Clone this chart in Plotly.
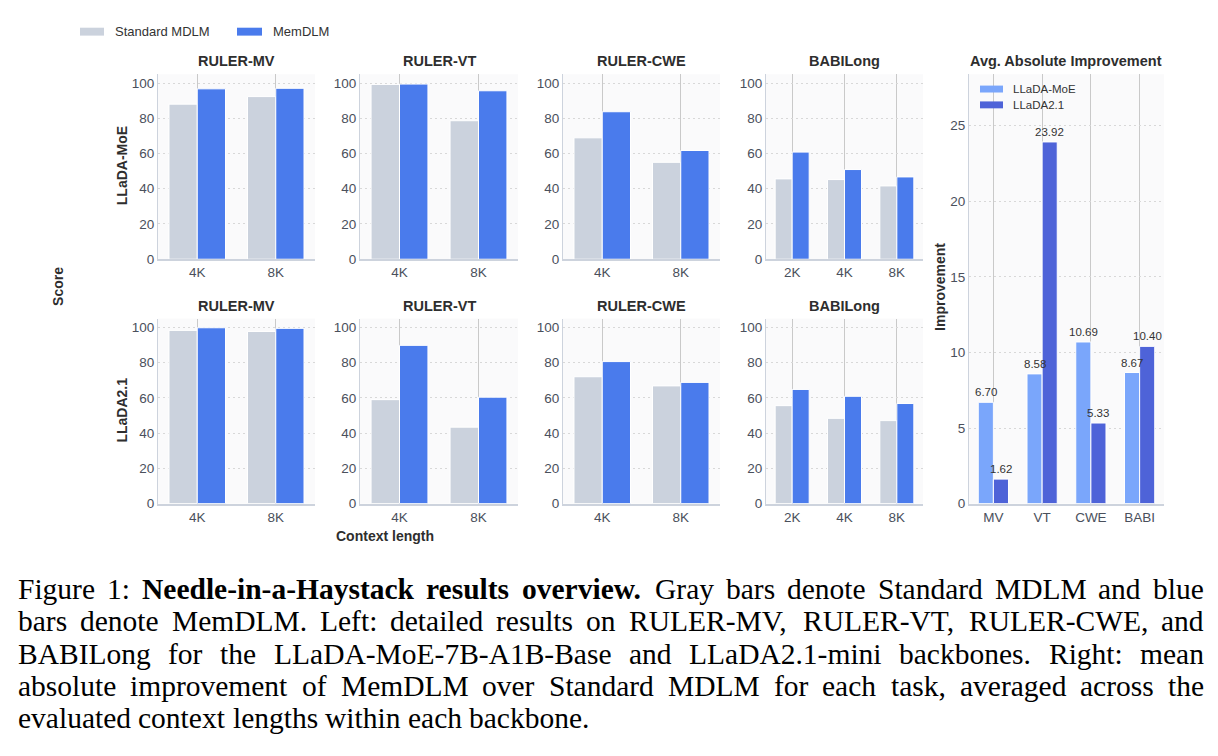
import plotly.graph_objects as go

W, H = 1218, 756

# ---------------- data ----------------
tasks = ["RULER-MV", "RULER-VT", "RULER-CWE", "BABILong"]
ctx_ruler = ["4K", "8K"]
ctx_babi = ["2K", "4K", "8K"]
backbones = ["LLaDA-MoE", "LLaDA2.1"]
methods = ["Standard MDLM", "MemDLM"]

# LLaDA-MoE (top row)
moe_std = {
    "RULER-MV": [88.0, 92.3],
    "RULER-VT": [99.2, 78.6],
    "RULER-CWE": [68.9, 55.0],
    "BABILong": [45.6, 45.2, 41.6],
}
moe_mem = {
    "RULER-MV": [96.7, 97.0],
    "RULER-VT": [99.4, 95.6],
    "RULER-CWE": [83.7, 61.7],
    "BABILong": [60.8, 50.9, 46.7],
}
# LLaDA2.1 (bottom row)
l21_std = {
    "RULER-MV": [98.3, 97.7],
    "RULER-VT": [59.0, 43.4],
    "RULER-CWE": [72.0, 66.8],
    "BABILong": [55.6, 48.4, 47.1],
}
l21_mem = {
    "RULER-MV": [99.8, 99.45],
    "RULER-VT": [89.8, 60.4],
    "RULER-CWE": [80.6, 68.8],
    "BABILong": [64.8, 60.9, 56.8],
}

imp_cats = ["MV", "VT", "CWE", "BABI"]
imp_moe = [6.70, 8.58, 10.69, 8.67]
imp_l21 = [1.62, 23.92, 5.33, 10.40]

y_ticks = [0, 20, 40, 60, 80, 100]
imp_ticks = [0, 5, 10, 15, 20, 25]

# caption: (text, bold) word lists, one list per line
caption_lines = [
    [("Figure", 0), ("1:", 0), ("Needle-in-a-Haystack", 1), ("results", 1), ("overview.", 1),
     ("Gray", 0), ("bars", 0), ("denote", 0), ("Standard", 0), ("MDLM", 0), ("and", 0), ("blue", 0)],
    [("bars", 0), ("denote", 0), ("MemDLM.", 0), ("Left:", 0), ("detailed", 0), ("results", 0),
     ("on", 0), ("RULER-MV,", 0), ("RULER-VT,", 0), ("RULER-CWE,", 0), ("and", 0)],
    [("BABILong", 0), ("for", 0), ("the", 0), ("LLaDA-MoE-7B-A1B-Base", 0), ("and", 0),
     ("LLaDA2.1-mini", 0), ("backbones.", 0), ("Right:", 0), ("mean", 0)],
    [("absolute", 0), ("improvement", 0), ("of", 0), ("MemDLM", 0), ("over", 0), ("Standard", 0),
     ("MDLM", 0), ("for", 0), ("each", 0), ("task,", 0), ("averaged", 0), ("across", 0), ("the", 0)],
    [("evaluated", 0), ("context", 0), ("lengths", 0), ("within", 0), ("each", 0), ("backbone.", 0)],
]

# ---------------- style ----------------
C_STD = "#cbd2dd"
C_MEM = "#4a7bec"
C_MOE = "#7aa6fb"
C_L21 = "#4e63d8"
FONT = "Liberation Sans, Arial, sans-serif"
SERIF = "Liberation Serif, Times New Roman, serif"
TICK_C = "#4a505c"
TITLE_C = "#2e2e2e"
GRID_H = "#d8d8d8"
GRID_V = "#c9c9c9"
AXLINE = "#cdd3dd"
BG = "#fafafb"
TICK_SIZE = 13.5
TITLE_SIZE = 14.5
LABEL_SIZE = 14
CAP_SIZE = 29.5
IMP_BW = 0.31

# Times metrics (per 1000 em) used only to justify caption words
_TR = dict(zip("ABCDEFGHIJKLMNOPQRSTUVWXYZ",
               [722, 667, 667, 722, 611, 556, 722, 722, 333, 389, 722, 611, 889, 722, 722, 556,
                722, 667, 556, 611, 722, 722, 944, 722, 722, 611]))
_TR.update(dict(zip("abcdefghijklmnopqrstuvwxyz",
                    [444, 500, 444, 500, 444, 333, 500, 500, 278, 278, 500, 278, 778, 500, 500, 500,
                     500, 333, 389, 278, 500, 500, 722, 500, 500, 444])))
_TR.update({d: 500 for d in "0123456789"})
_TR.update({":": 278, ",": 250, ".": 250, "-": 333, " ": 250})
_TB = dict(_TR)
_TB.update({"H": 778, "N": 722, "a": 500, "c": 444, "d": 556, "e": 444, "i": 278, "k": 556,
            "l": 278, "n": 556, "o": 500, "r": 444, "s": 389, "t": 333, "u": 556, "v": 500,
            "w": 722, "y": 500, "-": 333, ".": 250})


def word_w(word, bold, size):
    tbl = _TB if bold else _TR
    return sum(tbl.get(ch, 500) for ch in word) * size / 1000.0


def px(x):
    return x / W


def py(y):
    return 1 - y / H


col_x = [(158, 315), (360, 518), (563, 720), (766, 923)]
row_y = [(75, 262), (322, 509)]
imp_x = (969, 1164)

fig = go.Figure()
layout = {}
annotations = []
shapes = []

idx = 0
for r, (stdd, memd) in enumerate([(moe_std, moe_mem), (l21_std, l21_mem)]):
    for c, task in enumerate(tasks):
        idx += 1
        xn = "x" if idx == 1 else f"x{idx}"
        yn = "y" if idx == 1 else f"y{idx}"
        cats = ctx_babi if task == "BABILong" else ctx_ruler
        bw = 0.325 if task == "BABILong" else 0.36
        fig.add_trace(go.Bar(
            x=cats, y=stdd[task], xaxis=xn, yaxis=yn, name=methods[0],
            legendgroup=methods[0],
            marker=dict(color=C_STD, line=dict(color="white", width=1)),
            width=bw, offset=-bw, showlegend=False,
        ))
        fig.add_trace(go.Bar(
            x=cats, y=memd[task], xaxis=xn, yaxis=yn, name=methods[1],
            legendgroup=methods[1],
            marker=dict(color=C_MEM, line=dict(color="white", width=1)),
            width=bw, offset=0, showlegend=False,
        ))
        x0, x1 = col_x[c]
        y0, y1 = row_y[r]
        kx = "xaxis" if idx == 1 else f"xaxis{idx}"
        ky = "yaxis" if idx == 1 else f"yaxis{idx}"
        layout[kx] = dict(
            domain=[px(x0), px(x1)], anchor=yn, type="category",
            range=[-0.5, len(cats) - 0.5],
            showgrid=True, gridcolor=GRID_V, gridwidth=1,
            showline=True, linecolor=AXLINE, linewidth=1.5,
            ticks="", tickfont=dict(size=TICK_SIZE, color=TICK_C, family=FONT),
            fixedrange=True,
        )
        layout[ky] = dict(
            domain=[py(y1), py(y0)], anchor=xn, range=[0, 105],
            tickvals=y_ticks,
            showgrid=True, gridcolor=GRID_H, griddash="2px,3px", gridwidth=1,
            zeroline=False, showline=True, linecolor=AXLINE, linewidth=1,
            ticks="", tickfont=dict(size=TICK_SIZE, color=TICK_C, family=FONT),
            fixedrange=True,
        )
        annotations.append(dict(
            text=f"<b>{task}</b>", x=px((x0 + x1) / 2), y=py(y0 - 13),
            xref="paper", yref="paper", showarrow=False,
            font=dict(size=TITLE_SIZE, color=TITLE_C, family=FONT),
            xanchor="center", yanchor="middle",
        ))

# right panel
idx += 1
xn, yn = f"x{idx}", f"y{idx}"
cat_px = (imp_x[1] - imp_x[0]) / len(imp_cats)
for vals, name, col, off in [(imp_moe, backbones[0], C_MOE, -IMP_BW), (imp_l21, backbones[1], C_L21, 0)]:
    fig.add_trace(go.Bar(
        x=imp_cats, y=vals, xaxis=xn, yaxis=yn, name=name,
        marker=dict(color=col, line=dict(color="white", width=1)),
        width=IMP_BW, offset=off, showlegend=False,
    ))
    # value labels drawn on top of all bars
    shift = (off + IMP_BW / 2) * cat_px
    for cat, v in zip(imp_cats, vals):
        annotations.append(dict(
            text=f"{v:.2f}", x=cat, y=v, xref=xn, yref=yn, showarrow=False,
            xanchor="center", yanchor="bottom", xshift=shift, yshift=2,
            font=dict(size=11.5, color="#333333", family=FONT),
        ))
layout[f"xaxis{idx}"] = dict(
    domain=[px(imp_x[0]), px(imp_x[1])], anchor=yn, type="category",
    range=[-0.5, 3.5],
    showgrid=True, gridcolor=GRID_V, gridwidth=1,
    showline=True, linecolor=AXLINE, linewidth=1.5,
    ticks="", tickfont=dict(size=TICK_SIZE, color=TICK_C, family=FONT),
    fixedrange=True,
)
layout[f"yaxis{idx}"] = dict(
    domain=[py(509), py(75)], anchor=xn, range=[0, 28.4],
    tickvals=imp_ticks,
    showgrid=True, gridcolor=GRID_H, griddash="2px,3px", gridwidth=1,
    zeroline=False, showline=True, linecolor=AXLINE, linewidth=1,
    ticks="", tickfont=dict(size=TICK_SIZE, color=TICK_C, family=FONT),
    fixedrange=True,
)
annotations.append(dict(
    text="<b>Avg. Absolute Improvement</b>", x=px(1066), y=py(62),
    xref="paper", yref="paper", showarrow=False, xanchor="center", yanchor="middle",
    font=dict(size=TITLE_SIZE, color=TITLE_C, family=FONT),
))

# row labels and axis titles
lab = [
    dict(text=f"<b>{backbones[0]}</b>", x=px(122), y=py(168), textangle=-90),
    dict(text=f"<b>{backbones[1]}</b>", x=px(122), y=py(415), textangle=-90),
    dict(text="<b>Score</b>", x=px(58), y=py(290), textangle=-90),
    dict(text="<b>Context length</b>", x=px(385), y=py(542)),
    dict(text="<b>Improvement</b>", x=px(940), y=py(290), textangle=-90),
]
for a in lab:
    a.update(xref="paper", yref="paper", showarrow=False,
             font=dict(size=LABEL_SIZE, color=TITLE_C, family=FONT),
             xanchor="center", yanchor="middle")
annotations += lab


# manual legends (wide flat swatches as in the reference)
def legend_item(x_sw, yc, color, label, sw_w, sw_h, tx, size):
    shapes.append(dict(type="rect", xref="paper", yref="paper",
                       x0=px(x_sw), x1=px(x_sw + sw_w), y0=py(yc + sw_h / 2), y1=py(yc - sw_h / 2),
                       fillcolor=color, line=dict(width=0)))
    annotations.append(dict(text=label, x=px(tx), y=py(yc), xref="paper", yref="paper",
                            showarrow=False, xanchor="left", yanchor="middle",
                            font=dict(size=size, color="#333333", family=FONT)))


legend_item(80, 32, C_STD, methods[0], 24, 8, 113, 13)
legend_item(237, 32, C_MEM, methods[1], 25, 8, 271, 13)
legend_item(980, 90, C_MOE, backbones[0], 23, 7, 1011, 11.5)
legend_item(980, 106, C_L21, backbones[1], 23, 7, 1011, 11.5)

# caption, justified word by word
LEFT, RIGHT = 17, 1203
cap_y = [595, 628, 661, 693, 726]
for li, (words, yy) in enumerate(zip(caption_lines, cap_y)):
    widths = [word_w(w, b, CAP_SIZE) for w, b in words]
    if li == len(caption_lines) - 1:
        gap = 0.25 * CAP_SIZE
    else:
        gap = (RIGHT - LEFT - sum(widths)) / (len(words) - 1)
    xcur = LEFT
    for (w, b), ww in zip(words, widths):
        annotations.append(dict(
            text=f"<b>{w}</b>" if b else w, x=px(xcur), y=py(yy),
            xref="paper", yref="paper", showarrow=False,
            xanchor="left", yanchor="middle", borderpad=0,
            font=dict(size=CAP_SIZE, color="black", family=SERIF),
        ))
        xcur += ww + gap

layout.update(
    width=W, height=H, margin=dict(l=0, r=0, t=0, b=0),
    paper_bgcolor="white", plot_bgcolor=BG,
    barmode="overlay", showlegend=False,
    annotations=annotations, shapes=shapes,
    font=dict(family=FONT),
)
fig.update_layout(**layout)

fig.write_html("out.html")
